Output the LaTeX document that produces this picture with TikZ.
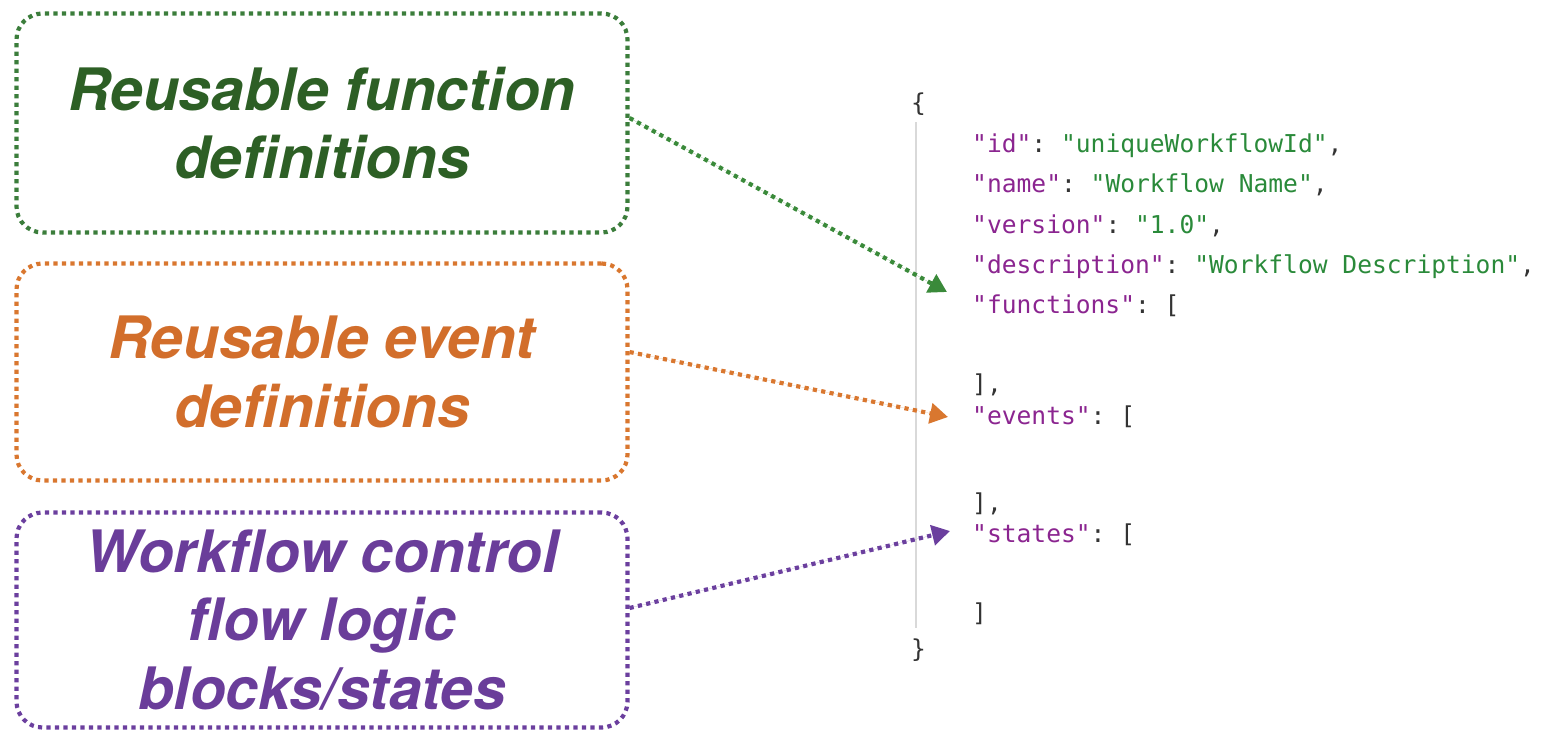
\documentclass[tikz,border=0pt]{standalone}
\usepackage{fontspec}
\usetikzlibrary{arrows.meta}
\newfontfamily\boxfont{TeX Gyre Heros}
\newfontfamily\codefont{DejaVu Sans Mono}[WordSpace={1,0,0}]
\definecolor{gbox}{HTML}{3B7D3B}
\definecolor{gtxt}{HTML}{2D5F25}
\definecolor{obox}{HTML}{D9772F}
\definecolor{otxt}{HTML}{D26E2B}
\definecolor{pbox}{HTML}{6B3F9E}
\definecolor{ptxt}{HTML}{6A3D9A}
\definecolor{gar}{HTML}{3A8A3A}
\definecolor{keyc}{HTML}{8B2590}
\definecolor{valc}{HTML}{2A8A3A}
\definecolor{punc}{HTML}{333333}
\newcommand{\K}[1]{\textcolor{keyc}{#1}}
\newcommand{\V}[1]{\textcolor{valc}{#1}}
\frenchspacing
\tikzset{
  labelbox/.style={draw, line width=4.2pt, dash pattern=on 4.2pt off 4.3pt, rounded corners=26pt,
    minimum width=611pt, inner sep=0pt, align=center,
    font=\boxfont\bfseries\itshape\fontsize{58.5}{68.5}\selectfont},
  conn/.style={line width=4.2pt, dash pattern=on 4.2pt off 4.3pt,
    -{Triangle[length=18pt,width=20pt]}},
  code/.style={anchor=base west, inner sep=0pt, text=punc, font=\codefont\fontsize{24.6}{30}\selectfont}
}
\begin{document}
\begin{tikzpicture}[x=1pt,y=-1pt]
\useasboundingbox (0,0) rectangle (1547,732);
% label boxes
\node[labelbox, draw=gbox, text=gtxt, minimum height=219pt] (b1) at (322,123) {Reusable function\\definitions};
\node[labelbox, draw=obox, text=otxt, minimum height=217pt] (b2) at (322,372) {Reusable event\\definitions};
\node[labelbox, draw=pbox, text=ptxt, minimum height=215pt] (b3) at (322,620) {Workflow control\\flow logic\\blocks/states};
% code
\node[code] (lbrace) at (911,111) {\{};
\node[code] (lid) at (972,152) {\K{"id"}: \V{"uniqueWorkflowId"},};
\node[code] (lname) at (972,192) {\K{"name"}: \V{"Workflow Name"},};
\node[code] (lver) at (972,233) {\K{"version"}: \V{"1.0"},};
\node[code] (ldesc) at (972,273) {\K{"description"}: \V{"Workflow Description"},};
\node[code] (lfun) at (972,313) {\K{"functions"}: [};
\node[code] (lc1) at (972,392) {],};
\node[code] (lev) at (972,424) {\K{"events"}: [};
\node[code] (lc2) at (972,511) {],};
\node[code] (lst) at (972,542) {\K{"states"}: [};
\node[code] (lc3) at (972,621) {]};
\node[code] (rbrace) at (911,657) {\}};
\coordinate (vtop) at (916,122);
\coordinate (vbot) at (916,628);
\draw[line width=1.2pt, draw=black!15] (vtop) -- (vbot);
% connectors
\coordinate (e1) at (947,292);
\coordinate (e2) at (948,417);
\coordinate (e3) at (950,531);
\draw[conn, draw=gar, fill=gar] ([yshift=5pt]b1.east) -- (e1);
\draw[conn, draw=obox, fill=obox] ([yshift=20pt]b2.east) -- (e2);
\draw[conn, draw=pbox, fill=pbox] ([yshift=12pt]b3.east) -- (e3);
\end{tikzpicture}
\end{document}
